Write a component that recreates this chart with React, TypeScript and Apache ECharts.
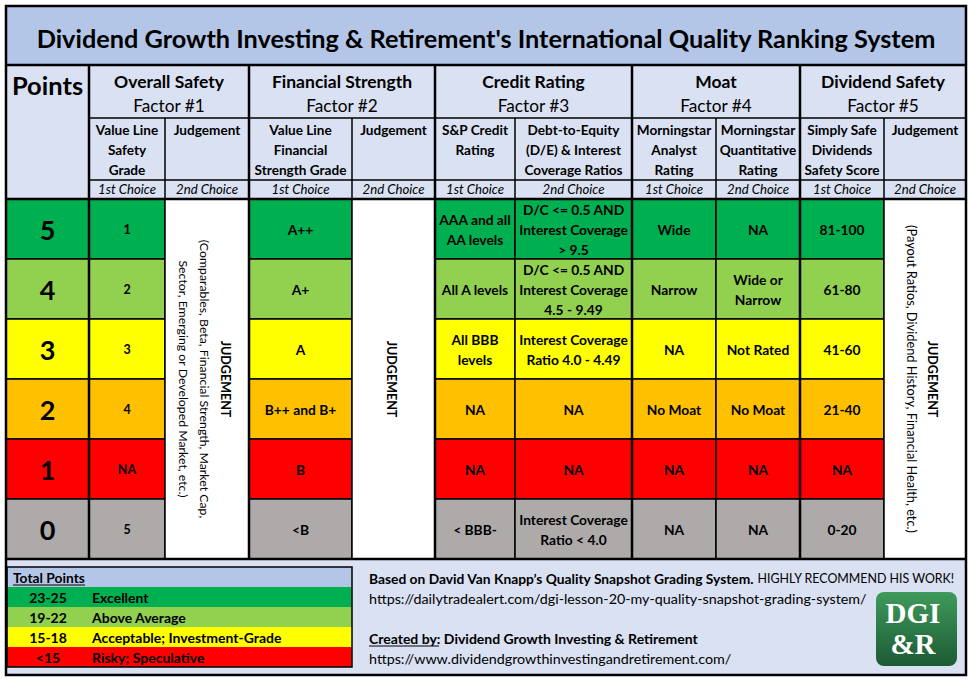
import React, { useEffect, useRef } from 'react';
import * as echarts from 'echarts';

// ---------- DATA ----------
const points = ['5', '4', '3', '2', '1', '0'];
const rowColors = ['#00B050', '#92D050', '#FFFF00', '#FFC000', '#FF0000', '#AEAAAA'];
const valueLineSafety = ['1', '2', '3', '4', 'NA', '5'];
const financialStrength = ['A++', 'A+', 'A', 'B++ and B+', 'B', '<B'];
const spCredit = ['AAA and all\nAA levels', 'All A levels', 'All BBB\nlevels', 'NA', 'NA', '< BBB-'];
const debtToEquity = [
  'D/C <= 0.5 AND\nInterest Coverage\n> 9.5',
  'D/C <= 0.5 AND\nInterest Coverage\n4.5 - 9.49',
  'Interest Coverage\nRatio 4.0 - 4.49',
  'NA',
  'NA',
  'Interest Coverage\nRatio < 4.0',
];
const morningstarAnalyst = ['Wide', 'Narrow', 'NA', 'No Moat', 'NA', 'NA'];
const morningstarQuant = ['NA', 'Wide or\nNarrow', 'Not Rated', 'No Moat', 'NA', 'NA'];
const simplySafe = ['81-100', '61-80', '41-60', '21-40', 'NA', '0-20'];

const factorNames = ['Overall Safety', 'Financial Strength', 'Credit Rating', 'Moat', 'Dividend Safety'];
const factorLabels = ['Factor #1', 'Factor #2', 'Factor #3', 'Factor #4', 'Factor #5'];
const subHeaders = [
  'Value Line\nSafety\nGrade',
  'Judgement',
  'Value Line\nFinancial\nStrength Grade',
  'Judgement',
  'S&P Credit\nRating',
  'Debt-to-Equity\n(D/E) & Interest\nCoverage Ratios',
  'Morningstar\nAnalyst\nRating',
  'Morningstar\nQuantitative\nRating',
  'Simply Safe\nDividends\nSafety Score',
  'Judgement',
];
const choices = ['1st Choice', '2nd Choice', '1st Choice', '2nd Choice', '1st Choice', '2nd Choice', '1st Choice', '2nd Choice', '1st Choice', '2nd Choice'];
const judgementOverall = ['JUDGEMENT', '(Comparables, Beta, Financial Strength, Market Cap,', 'Sector, Emerging or Developed Market, etc.)'];
const judgementFinancial = ['JUDGEMENT'];
const judgementDividend = ['JUDGEMENT', '(Payout Ratios, Dividend History, Financial Health, etc.)'];

const totalRanges = ['23-25', '19-22', '15-18', '<15'];
const totalLabels = ['Excellent', 'Above Average', 'Acceptable; Investment-Grade', 'Risky; Speculative'];
const totalColors = ['#00B050', '#92D050', '#FFFF00', '#FF0000'];

const titleText = "Dividend Growth Investing & Retirement's International Quality Ranking System";

// ---------- LAYOUT ----------
const FONT = 'Lato, "Noto Sans", sans-serif';
const COL_W = [83, 76, 84, 103, 83, 80, 117, 84, 84, 84, 82];
const COL_EDGES: number[] = [0];
COL_W.forEach((w, i) => COL_EDGES.push(COL_EDGES[i] + w));
const LEFT = 6;
const RIGHT = LEFT + COL_EDGES[COL_EDGES.length - 1];
const TOP = 6;
const TITLE_B = 65;
const FACTOR_B = 118;
const SUB_B = 180;
const HEAD_B = 199;
const TABLE_B = 559;
const BOTTOM = 675;
const HEADER_BG = '#D9E1F2';
const TITLE_BG = '#B4C6E7';

type Cell = { col: number; row0: number; row1: number; text?: string; size?: number; color: string; lines?: string[]; dx?: number; noteSize?: number };

const cells: Cell[] = [];
points.forEach((p, r) => {
  const c = rowColors[r];
  cells.push({ col: 0, row0: r, row1: r, text: p, size: 27, color: c });
  cells.push({ col: 1, row0: r, row1: r, text: valueLineSafety[r], size: 12.5, color: c });
  cells.push({ col: 3, row0: r, row1: r, text: financialStrength[r], size: 13.8, color: c });
  cells.push({ col: 5, row0: r, row1: r, text: spCredit[r], size: 13.8, color: c });
  cells.push({ col: 6, row0: r, row1: r, text: debtToEquity[r], size: 13.8, color: c });
  cells.push({ col: 7, row0: r, row1: r, text: morningstarAnalyst[r], size: 13.8, color: c });
  cells.push({ col: 8, row0: r, row1: r, text: morningstarQuant[r], size: 13.8, color: c });
  cells.push({ col: 9, row0: r, row1: r, text: simplySafe[r], size: 13.8, color: c });
});
cells.push({ col: 2, row0: 0, row1: 5, color: '#FFFFFF', lines: judgementOverall, dx: -3, noteSize: 12.3 });
cells.push({ col: 4, row0: 0, row1: 5, color: '#FFFFFF', lines: judgementFinancial, dx: -2, noteSize: 12.3 });
cells.push({ col: 10, row0: 0, row1: 5, color: '#FFFFFF', lines: judgementDividend, dx: -3, noteSize: 12.8 });

const colX = (i: number) => LEFT + COL_EDGES[i];
const colC = (i: number) => LEFT + (COL_EDGES[i] + COL_EDGES[i + 1]) / 2;

function buildGraphic() {
  const g: any[] = [];
  const txt = (x: number, y: number, text: string, o: any = {}) => ({
    type: 'text', x, y, z: 20, silent: true,
    style: { text, fontFamily: FONT, fontSize: 13, fill: '#000', align: 'center', verticalAlign: 'middle', ...o },
  });
  const line = (x1: number, y1: number, x2: number, y2: number, lw: number) => ({
    type: 'line', z: 30, silent: true, shape: { x1, y1, x2, y2 }, style: { stroke: '#000', lineWidth: lw },
  });
  // backgrounds
  g.push({ type: 'rect', z: 0, silent: true, shape: { x: LEFT, y: TOP, width: RIGHT - LEFT, height: TITLE_B - TOP }, style: { fill: TITLE_BG } });
  g.push({ type: 'rect', z: 0, silent: true, shape: { x: LEFT, y: TITLE_B, width: RIGHT - LEFT, height: HEAD_B - TITLE_B }, style: { fill: HEADER_BG } });
  g.push({ type: 'rect', z: 0, silent: true, shape: { x: LEFT, y: TABLE_B, width: RIGHT - LEFT, height: BOTTOM - TABLE_B }, style: { fill: HEADER_BG } });
  // title
  g.push(txt((LEFT + RIGHT) / 2, 38, titleText, { fontSize: 25.3, fontWeight: 'bold' }));
  // points header
  g.push(txt(colC(0), 85, 'Points', { fontSize: 25.5, fontWeight: 'bold' }));
  // factor headers
  factorNames.forEach((n, i) => {
    const cx = (colX(1 + 2 * i) + colX(3 + 2 * i)) / 2;
    g.push(txt(cx, 81, n, { fontSize: 17.5, fontWeight: 'bold' }));
    g.push(txt(cx, 105, factorLabels[i], { fontSize: 17.2 }));
  });
  subHeaders.forEach((s, i) => {
    g.push(txt(colC(i + 1), 120, s, { fontSize: 13.6, fontWeight: 'bold', verticalAlign: 'top', lineHeight: 20 }));
    g.push(txt(colC(i + 1), 189, choices[i], { fontSize: 13.2, fontStyle: 'italic' }));
  });
  // header lines
  g.push(line(LEFT, TITLE_B, RIGHT, TITLE_B, 2.5));
  g.push(line(colX(1), FACTOR_B, RIGHT, FACTOR_B, 1.5));
  g.push(line(colX(1), SUB_B, RIGHT, SUB_B, 1.5));
  g.push(line(LEFT, HEAD_B, RIGHT, HEAD_B, 2.5));
  g.push(line(LEFT, TABLE_B, RIGHT, TABLE_B, 2.5));
  [2, 4, 6, 8, 10].forEach((c) => g.push(line(colX(c), FACTOR_B, colX(c), HEAD_B, 1.5)));
  [1, 3, 5, 7, 9].forEach((c) => g.push(line(colX(c), TITLE_B, colX(c), TABLE_B, 2.5)));
  // legend box
  const lx = 7, ly = 567, lw = 345, rh = 20;
  g.push({ type: 'rect', z: 5, silent: true, shape: { x: lx, y: ly, width: lw, height: rh }, style: { fill: TITLE_BG } });
  g.push(txt(13, ly + 10, 'Total Points', { fontWeight: 'bold', align: 'left', fontSize: 13.8 }));
  g.push(line(13, ly + 18, 85, ly + 18, 1));
  totalRanges.forEach((r, i) => {
    const y = ly + rh * (i + 1);
    g.push({ type: 'rect', z: 5, silent: true, shape: { x: lx, y, width: lw, height: rh }, style: { fill: totalColors[i] } });
    g.push(txt(48, y + 10, r, { fontWeight: 'bold', fontSize: 14 }));
    g.push(txt(92, y + 10, totalLabels[i], { fontWeight: 'bold', align: 'left', fontSize: 14 }));
  });
  g.push({ type: 'rect', z: 30, silent: true, shape: { x: lx, y: ly, width: lw, height: rh * 5 }, style: { fill: 'none', stroke: '#000', lineWidth: 1.5 } });
  // right notes
  g.push(txt(369, 578, '{b|Based on David Van Knapp\u2019s Quality Snapshot Grading System.}{n| HIGHLY RECOMMEND HIS WORK!}', {
    align: 'left', rich: { b: { fontFamily: FONT, fontWeight: 'bold', fontSize: 13.8 }, n: { fontFamily: FONT, fontSize: 12.4 } },
  }));
  g.push(txt(369, 598, 'https://dailytradealert.com/dgi-lesson-20-my-quality-snapshot-grading-system/', { align: 'left', fontSize: 14.3 }));
  g.push(txt(369, 638, 'Created by: Dividend Growth Investing & Retirement', { align: 'left', fontWeight: 'bold', fontSize: 14 }));
  g.push(line(369, 646, 439, 646, 1));
  g.push(txt(369, 658, 'https://www.dividendgrowthinvestingandretirement.com/', { align: 'left', fontSize: 14.3 }));
  // logo
  g.push({
    type: 'rect', z: 5, silent: true, shape: { x: 876, y: 592, width: 81, height: 74, r: 8 },
    style: { fill: new echarts.graphic.LinearGradient(0, 0, 0, 1, [{ offset: 0, color: '#3f9a5b' }, { offset: 1, color: '#1c5a34' }]) },
  });
  g.push(txt(913, 613, 'DGI', { fontFamily: '"Liberation Serif", serif', fontWeight: 'bold', fontSize: 29, fill: '#fff' }));
  g.push(txt(913, 644, '&R', { fontFamily: '"Liberation Serif", serif', fontWeight: 'bold', fontSize: 29, fill: '#fff' }));
  // outer border
  g.push({ type: 'rect', z: 40, silent: true, shape: { x: LEFT, y: TOP, width: RIGHT - LEFT, height: BOTTOM - TOP }, style: { fill: 'none', stroke: '#000', lineWidth: 2.5 } });
  return g;
}

export default function App() {
  const ref = useRef<HTMLDivElement>(null);
  useEffect(() => {
    document.body.style.margin = '0';
    if (!ref.current) return;
    const chart = echarts.init(ref.current, undefined, { renderer: 'svg' });
    chart.setOption({
      animation: false,
      backgroundColor: '#ffffff',
      grid: { left: LEFT, right: 974 - RIGHT, top: HEAD_B, bottom: 681 - TABLE_B, containLabel: false },
      xAxis: { type: 'value', min: 0, max: COL_EDGES[COL_EDGES.length - 1], show: false },
      yAxis: { type: 'category', data: points, inverse: true, show: false },
      graphic: buildGraphic(),
      series: [
        {
          type: 'custom',
          silent: true,
          encode: { x: 0, y: 1 },
          data: cells.map((c) => [COL_EDGES[c.col], c.row0]),
          renderItem: (params: any, api: any) => {
            const c = cells[params.dataIndex];
            const xl = api.coord([COL_EDGES[c.col], c.row0])[0];
            const xr = api.coord([COL_EDGES[c.col + 1], c.row0])[0];
            const bh = api.size([0, 1])[1];
            const yt = api.coord([0, c.row0])[1] - bh / 2;
            const yb = api.coord([0, c.row1])[1] + bh / 2;
            const children: any[] = [
              { type: 'rect', shape: { x: xl, y: yt, width: xr - xl, height: yb - yt }, style: { fill: c.color, stroke: '#000', lineWidth: 1.5 } },
            ];
            if (c.lines) {
              const txt = c.lines.map((l, i) => (i === 0 ? `{b|${l}}` : `{n|${l}}`)).join('\n');
              children.push({
                type: 'text', x: (xl + xr) / 2 + (c.dx || 0), y: (yt + yb) / 2, rotation: -Math.PI / 2,
                style: {
                  text: txt, align: 'center', verticalAlign: 'middle', fill: '#000',
                  rich: {
                    b: { fontFamily: FONT, fontWeight: 'bold', fontSize: 12.5, lineHeight: 21 },
                    n: { fontFamily: FONT, fontSize: c.noteSize || 13, lineHeight: 21 },
                  },
                },
              });
            } else {
              children.push({
                type: 'text', x: (xl + xr) / 2, y: (yt + yb) / 2,
                style: {
                  text: c.text, align: 'center', verticalAlign: 'middle', fill: '#000',
                  fontFamily: FONT, fontWeight: 'bold', fontSize: c.size, lineHeight: 20,
                },
              });
            }
            return { type: 'group', children };
          },
        },
      ],
    });
    return () => chart.dispose();
  }, []);
  return <div ref={ref} style={{ width: 974, height: 681 }} />;
}
